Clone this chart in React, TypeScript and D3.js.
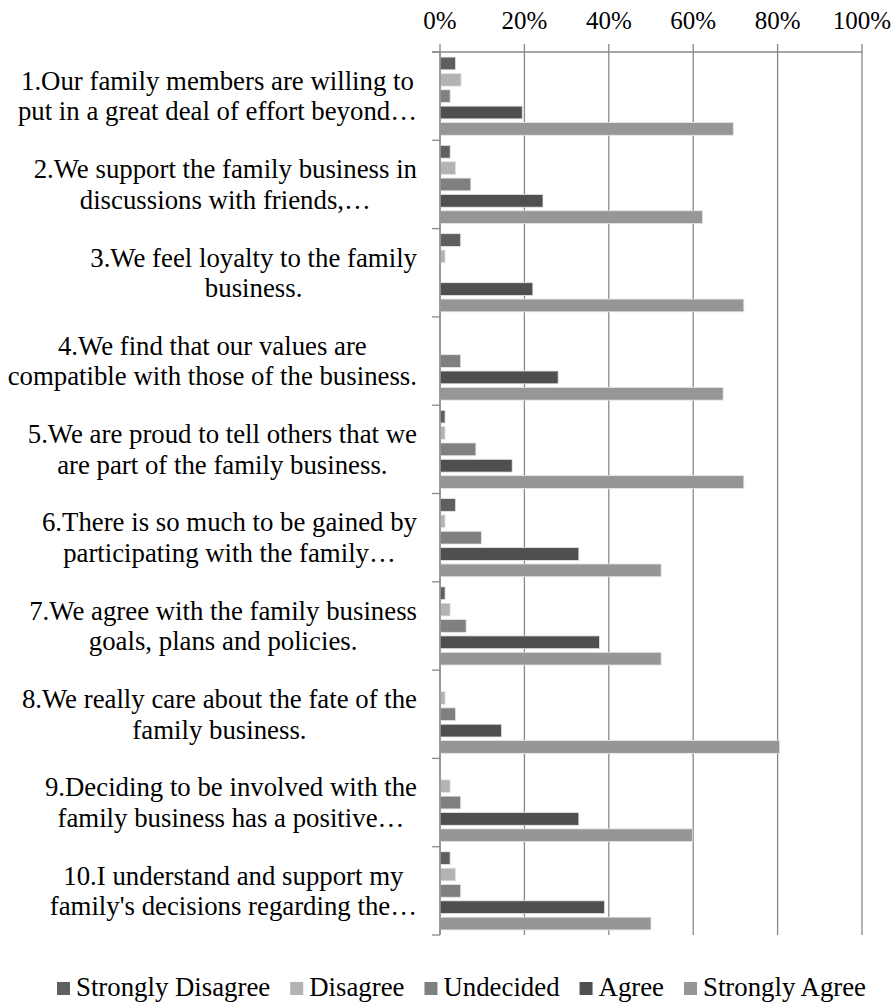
import { useEffect, useRef } from "react";
import * as d3 from "d3";

// category labels, already split into the two lines shown in the chart
const categories: string[][] = [
  ["1.Our family members are willing to", "put in a great deal of effort beyond…"],
  ["2.We support the family business in", "discussions with friends,…"],
  ["3.We feel loyalty to the family", "business."],
  ["4.We find that our values are", "compatible with those of the business."],
  ["5.We are proud to tell others that we", "are part of the family business."],
  ["6.There is so much to be gained by", "participating with the family…"],
  ["7.We agree with the family business", "goals, plans and policies."],
  ["8.We really care about the fate of the", "family business."],
  ["9.Deciding to be involved with the", "family business has a positive…"],
  ["10.I understand and support my", "family's decisions regarding the…"],
];

const seriesNames = ["Strongly Disagree", "Disagree", "Undecided", "Agree", "Strongly Agree"];
const seriesColors = ["#5f5f5f", "#b3b3b3", "#808080", "#4f4f4f", "#969696"];

const stronglyDisagree = [3.7, 2.4, 4.9, 0, 1.2, 3.7, 1.2, 0, 0, 2.4];
const disagree = [5.0, 3.7, 1.2, 0, 1.2, 1.2, 2.4, 1.2, 2.4, 3.7];
const undecided = [2.4, 7.3, 0, 4.9, 8.5, 9.8, 6.2, 3.7, 4.9, 4.9];
const agree = [19.5, 24.4, 22.0, 28.0, 17.1, 32.9, 37.8, 14.6, 32.9, 39.0];
const stronglyAgree = [69.5, 62.2, 72.0, 67.1, 72.0, 52.4, 52.4, 80.5, 59.9, 50.0];

const xTicks = [0, 20, 40, 60, 80, 100];

const W = 892;
const H = 1004;
const FONT = "'Liberation Serif', 'Times New Roman', serif";

export default function App() {
  const ref = useRef<SVGSVGElement>(null);

  useEffect(() => {
    if (!ref.current) return;
    const svg = d3.select(ref.current);
    svg.selectAll("*").remove();

    const series = [stronglyDisagree, disagree, undecided, agree, stronglyAgree];
    const rows = categories.map((lines, i) => ({
      idx: i,
      lines,
      values: series.map((s) => s[i]),
    }));

    const plot = { left: 440, right: 862, top: 52, bottom: 935 };

    const x = d3.scaleLinear().domain([0, 100]).range([plot.left, plot.right]);
    const y = d3
      .scaleBand<number>()
      .domain(d3.range(categories.length))
      .range([plot.top, plot.bottom])
      .padding(0);
    const inner = d3
      .scaleBand<number>()
      .domain(d3.range(seriesNames.length))
      .range([0, y.bandwidth()])
      .paddingInner(0.22)
      .paddingOuter(0.31);

    // gridlines (with small outward ticks above the axis)
    svg
      .append("g")
      .selectAll("line")
      .data(xTicks)
      .join("line")
      .attr("x1", (d) => x(d))
      .attr("x2", (d) => x(d))
      .attr("y1", plot.top - 8)
      .attr("y2", plot.bottom)
      .attr("stroke", "#898989")
      .attr("stroke-width", 1.3);

    // top axis line
    svg
      .append("line")
      .attr("x1", plot.left - 8)
      .attr("x2", plot.right)
      .attr("y1", plot.top)
      .attr("y2", plot.top)
      .attr("stroke", "#898989")
      .attr("stroke-width", 1.3);

    // category boundary ticks on the left axis
    const bounds = d3.range(categories.length + 1).map((i) => plot.top + i * y.step());
    svg
      .append("g")
      .selectAll("line")
      .data(bounds)
      .join("line")
      .attr("x1", plot.left - 8)
      .attr("x2", plot.left)
      .attr("y1", (d) => d)
      .attr("y2", (d) => d)
      .attr("stroke", "#898989")
      .attr("stroke-width", 1.3);

    // tick labels
    svg
      .append("g")
      .selectAll("text")
      .data(xTicks)
      .join("text")
      .attr("x", (d) => x(d))
      .attr("y", 29)
      .attr("text-anchor", "middle")
      .attr("font-family", FONT)
      .attr("font-size", 25)
      .attr("fill", "#000")
      .text((d) => `${d}%`);

    // bars
    const groups = svg
      .append("g")
      .selectAll("g")
      .data(rows)
      .join("g")
      .attr("transform", (d) => `translate(0,${y(d.idx)})`);

    groups
      .selectAll("rect")
      .data((d) => d.values.map((v, k) => ({ v, k })).filter((e) => e.v > 0))
      .join("rect")
      .attr("x", x(0))
      .attr("y", (d) => inner(d.k)!)
      .attr("width", (d) => x(d.v) - x(0))
      .attr("height", inner.bandwidth())
      .attr("fill", (d) => seriesColors[d.k])
      .attr("stroke", "#e6e6e6")
      .attr("stroke-width", 0.8);

    // left axis line
    svg
      .append("line")
      .attr("x1", plot.left)
      .attr("x2", plot.left)
      .attr("y1", plot.top)
      .attr("y2", plot.bottom)
      .attr("stroke", "#898989")
      .attr("stroke-width", 1.3);

    // category labels: each block centred on itself, right edge near the axis
    const lineH = 30.5;
    const labelRight = 417;
    rows.forEach((r) => {
      const cy = y(r.idx)! + y.bandwidth() / 2;
      const g = svg.append("g");
      const texts = g
        .selectAll("text")
        .data(r.lines)
        .join("text")
        .attr("y", (_, j) => cy + (j - (r.lines.length - 1) / 2) * lineH + 9)
        .attr("text-anchor", "middle")
        .attr("font-family", FONT)
        .attr("font-size", 26.8)
        .attr("fill", "#000")
        .text((d) => d);
      const maxW = d3.max(texts.nodes(), (n) => (n as SVGTextElement).getComputedTextLength()) ?? 0;
      texts.attr("x", labelRight - maxW / 2);
    });

    // legend
    const legend = svg.append("g");
    const items = legend
      .selectAll("g")
      .data(seriesNames)
      .join("g");
    items
      .append("rect")
      .attr("width", 13)
      .attr("height", 13)
      .attr("y", 982)
      .attr("fill", (_, i) => seriesColors[i]);
    const labels = items
      .append("text")
      .attr("x", 19)
      .attr("y", 996)
      .attr("font-family", FONT)
      .attr("font-size", 26.8)
      .attr("fill", "#000")
      .text((d) => d);
    const widths = labels.nodes().map((n) => (n as SVGTextElement).getComputedTextLength());
    const itemW = widths.map((w) => 19 + w);
    const gap = 20;
    const total = d3.sum(itemW) + gap * (itemW.length - 1);
    let cx = 461.5 - total / 2;
    items.attr("transform", (_, i) => {
      const t = `translate(${cx},0)`;
      cx += itemW[i] + gap;
      return t;
    });
  }, []);

  return (
    <svg
      ref={ref}
      width={W}
      height={H}
      style={{ position: "absolute", left: 0, top: 0, background: "#fff" }}
    />
  );
}
